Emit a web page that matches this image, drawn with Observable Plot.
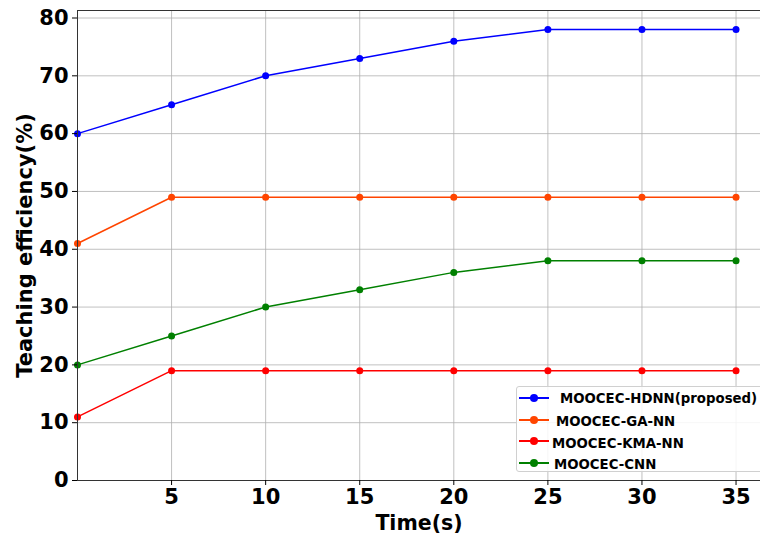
<!DOCTYPE html>
<html><head><meta charset="utf-8">
<script src="https://cdn.jsdelivr.net/npm/d3@7"></script>
<script src="https://cdn.jsdelivr.net/npm/@observablehq/plot@0.6"></script>
<style>
body{margin:0;background:#fff;font-family:"DejaVu Sans",sans-serif;}
#wrap{position:relative;width:760px;height:533px;}
#legend{position:absolute;left:516px;top:386px;width:250px;height:86px;border:1px solid #d0d0d0;border-radius:3px;background:rgba(255,255,255,0.85);box-sizing:border-box;font-weight:bold;font-size:13.3px;}
.li{position:absolute;left:0;height:20px;display:flex;align-items:center;}
.sw{position:relative;width:30px;height:20px;margin-left:2px;}
.sw .ln{position:absolute;left:0;top:9px;width:30px;height:2px;}
.sw .dt{position:absolute;left:11px;top:6px;width:8px;height:8px;border-radius:50%;}
</style></head><body>
<div id="wrap"><div id="chart"></div><div id="legend"></div></div>
<script>
const times = [0, 5, 10, 15, 20, 25, 30, 35];
const hdnn = [60, 65, 70, 73, 76, 78, 78, 78];
const gann = [41, 49, 49, 49, 49, 49, 49, 49];
const kmann = [11, 19, 19, 19, 19, 19, 19, 19];
const cnn = [20, 25, 30, 33, 36, 38, 38, 38];
const seriesNames = ["MOOCEC-HDNN(proposed)", "MOOCEC-GA-NN", "MOOCEC-KMA-NN", "MOOCEC-CNN"];
const colors = ["#0000ff", "#ff4500", "#ff0000", "#008000"];
const xTicks = [5, 10, 15, 20, 25, 30, 35];
const yTicks = [0, 10, 20, 30, 40, 50, 60, 70, 80];

const allSeries = [hdnn, gann, kmann, cnn];
const data = [];
allSeries.forEach((vals, si) => vals.forEach((v, i) => data.push({t: times[i], v, s: seriesNames[si]})));

const chart = Plot.plot({
  width: 760, height: 533,
  marginLeft: 77, marginRight: 0, marginTop: 10, marginBottom: 53,
  style: {fontFamily: "DejaVu Sans, sans-serif", fontWeight: "bold", fontSize: "21px", color: "#000"},
  x: {domain: [0, 36.3], ticks: xTicks, label: null, tickSize: 5, tickPadding: 4},
  y: {domain: [0, 81.3], ticks: yTicks, label: null, tickSize: 5, tickPadding: 3},
  color: {domain: seriesNames, range: colors},
  marks: [
    Plot.gridX(xTicks, {stroke: "#b0b0b0", strokeOpacity: 1, strokeWidth: 0.8}),
    Plot.gridY(yTicks, {stroke: "#b0b0b0", strokeOpacity: 1, strokeWidth: 0.8}),
    Plot.line(data, {x: "t", y: "v", z: "s", stroke: "s", strokeWidth: 1.5}),
    Plot.dot(data, {x: "t", y: "v", fill: "s", r: 3.5}),
    Plot.ruleY([81.3], {stroke: "#333", strokeWidth: 1}),
    Plot.ruleY([0], {stroke: "#333", strokeWidth: 1}),
    Plot.ruleX([0], {stroke: "#333", strokeWidth: 1}),
    Plot.axisX(xTicks, {fontSize: 21, fontWeight: "bold", tickSize: 5, label: null}),
    Plot.axisY(yTicks, {fontSize: 21, fontWeight: "bold", tickSize: 5, label: null}),
    Plot.text(["Time(s)"], {frameAnchor: "bottom", dy: 49, fontSize: 20.5, fontWeight: "bold"}),
    Plot.text(["Teaching efficiency(%)"], {frameAnchor: "left", textAnchor: "middle", dx: -52, rotate: -90, fontSize: 21, fontWeight: "bold"})
  ]
});
document.getElementById("chart").appendChild(chart);

const leg = document.getElementById("legend");
seriesNames.forEach((n, i) => {
  const d = document.createElement("div");
  d.className = "li";
  d.style.top = (1 + i * 21.5) + "px";
  d.innerHTML = `<div class="sw"><div class="ln" style="background:${colors[i]}"></div><div class="dt" style="background:${colors[i]}"></div></div><span style="margin-left:${[11,7,3,5][i]}px;margin-top:${i==0?0:4}px">${n}</span>`;
  leg.appendChild(d);
});
</script>
</body></html>
